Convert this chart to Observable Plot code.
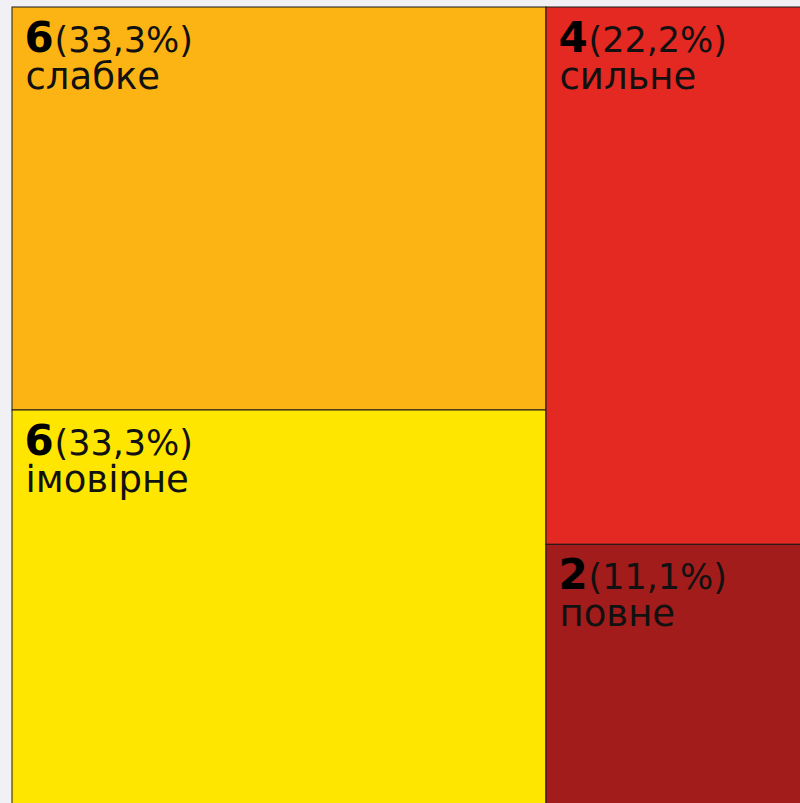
<!DOCTYPE html>
<html>
<head>
<meta charset="utf-8">
<script src="https://cdn.jsdelivr.net/npm/d3@7"></script>
<script src="https://cdn.jsdelivr.net/npm/@observablehq/plot@0.6"></script>
<style>
html, body { margin: 0; padding: 0; overflow: hidden; background: #f1f1f5; width: 800px; height: 803px; }
#chart svg { display: block; max-width: none !important; }
</style>
</head>
<body>
<div id="chart"></div>
<script>
const categories = ["слабке", "імовірне", "сильне", "повне"];
const counts = [6, 6, 4, 2];
const colors = ["#fbb414", "#ffe600", "#e42822", "#a21c1b"];

const total = d3.sum(counts);
const fmtPct = v => "(" + (Math.round(v * 1000) / 10).toFixed(1).replace(".", ",") + "%)";

const root = d3.hierarchy({children: categories.map((c, i) => ({name: c, value: counts[i]}))})
  .sum(d => d.value || 0)
  .sort((a, b) => b.value - a.value);
d3.treemap().tile(d3.treemapSquarify).size([1, 1]).round(false)(root);

const cells = root.leaves().map(l => ({
  name: l.data.name,
  value: l.data.value,
  pct: fmtPct(l.data.value / total),
  x0: l.x0, x1: l.x1, y0: l.y0, y1: l.y1
}));

const W = 820, H = 820;
const chart = Plot.plot({
  width: W,
  height: H,
  marginLeft: 12,
  marginRight: 7,
  marginTop: 7,
  marginBottom: 7,
  x: {domain: [0, 1], axis: null},
  y: {domain: [0, 1], range: [7, H - 7], axis: null},
  color: {type: "ordinal", domain: categories, range: colors},
  style: {background: "transparent", overflow: "visible", maxWidth: "none"},
  marks: [
    Plot.rect(cells, {x1: "x0", x2: "x1", y1: "y0", y2: "y1", fill: "name", stroke: "#1a1a1a", strokeWidth: 1}),
    Plot.text(cells, {x: "x0", y: "y0", text: d => String(d.value), textAnchor: "start", lineAnchor: "bottom",
      dx: 12, dy: 44, fontSize: 42, fontWeight: 900, fontFamily: "DejaVu Sans", fill: "#000"}),
    Plot.text(cells, {x: "x0", y: "y0", text: "pct", textAnchor: "start", lineAnchor: "bottom",
      dx: 42, dy: 44, fontSize: 35, fontFamily: "DejaVu Sans", fill: "#111"}),
    Plot.text(cells, {x: "x0", y: "y0", text: "name", textAnchor: "start", lineAnchor: "bottom",
      dx: 13, dy: 81, fontSize: 37, fontFamily: "DejaVu Sans", fill: "#111"})
  ]
});
document.getElementById("chart").appendChild(chart);
</script>
</body>
</html>
